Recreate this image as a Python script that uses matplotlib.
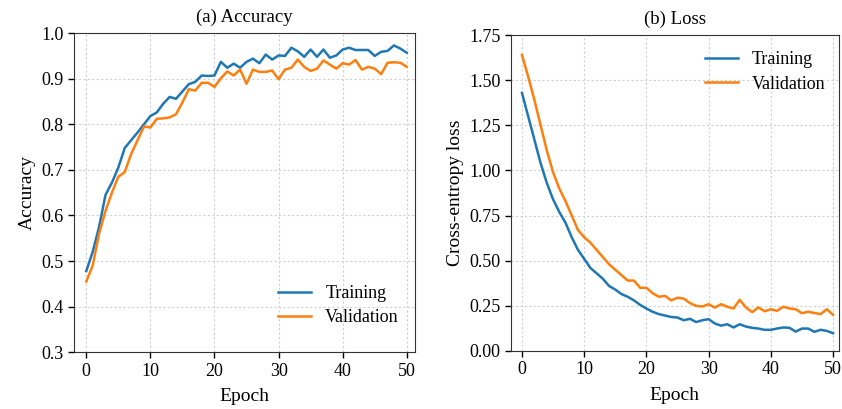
import numpy as np
import matplotlib
matplotlib.use('Agg')
import matplotlib.pyplot as plt

# values, one per epoch
epochs = np.arange(0, 51)

acc_train = [0.478, 0.52, 0.575, 0.645, 0.672, 0.705, 0.748, 0.765, 0.782, 0.80,
             0.818, 0.826, 0.845, 0.86, 0.856, 0.872, 0.888, 0.893, 0.907, 0.906,
             0.907, 0.937, 0.924, 0.933, 0.924, 0.937, 0.944, 0.934, 0.953, 0.942,
             0.951, 0.950, 0.968, 0.96, 0.948, 0.964, 0.948, 0.964, 0.946, 0.951,
             0.964, 0.968, 0.963, 0.963, 0.963, 0.95, 0.959, 0.961, 0.973, 0.966,
             0.957]
acc_val = [0.455, 0.49, 0.56, 0.61, 0.65, 0.685, 0.695, 0.735, 0.765, 0.795,
           0.793, 0.812, 0.813, 0.815, 0.822, 0.848, 0.877, 0.874, 0.891, 0.891,
           0.882, 0.901, 0.916, 0.907, 0.92, 0.889, 0.92, 0.915, 0.915, 0.918,
           0.899, 0.92, 0.924, 0.942, 0.926, 0.917, 0.922, 0.94, 0.931, 0.922,
           0.934, 0.931, 0.941, 0.92, 0.926, 0.922, 0.91, 0.935, 0.936, 0.935,
           0.926]

loss_train = [1.43, 1.30, 1.17, 1.04, 0.93, 0.84, 0.77, 0.71, 0.63, 0.56,
              0.51, 0.46, 0.43, 0.40, 0.36, 0.34, 0.315, 0.30, 0.28, 0.255,
              0.235, 0.217, 0.204, 0.196, 0.188, 0.185, 0.17, 0.178, 0.16, 0.17,
              0.176, 0.152, 0.14, 0.148, 0.13, 0.148, 0.135, 0.128, 0.124, 0.117,
              0.117, 0.124, 0.13, 0.128, 0.107, 0.124, 0.124, 0.106, 0.117, 0.111,
              0.098]
loss_val = [1.64, 1.52, 1.39, 1.25, 1.11, 0.99, 0.90, 0.83, 0.75, 0.67,
            0.63, 0.60, 0.56, 0.52, 0.48, 0.45, 0.42, 0.39, 0.39, 0.35,
            0.35, 0.32, 0.30, 0.305, 0.28, 0.295, 0.29, 0.265, 0.25, 0.246,
            0.259, 0.24, 0.259, 0.245, 0.235, 0.283, 0.241, 0.215, 0.241, 0.22,
            0.231, 0.222, 0.245, 0.235, 0.231, 0.209, 0.217, 0.21, 0.204, 0.231,
            0.2]

plt.rcParams['font.family'] = 'Liberation Serif'
plt.rcParams['font.size'] = 13

fig = plt.figure(figsize=(8.42, 4.09), dpi=100)
ax1 = fig.add_axes([0.088, 0.139, 0.405, 0.780])
ax2 = fig.add_axes([0.607, 0.142, 0.389, 0.772])

blue = '#1f77b4'
orange = '#ff7f0e'

for ax in (ax1, ax2):
    ax.grid(True, linestyle=(0, (2, 2)), color='#d0d0d0', linewidth=0.8)
    ax.set_axisbelow(True)
    ax.tick_params(direction='out', length=4, width=1, labelsize=13)
    for s in ax.spines.values():
        s.set_color('#333333')
    ax.set_xticks([0, 10, 20, 30, 40, 50])
    ax.set_xlabel('Epoch', fontsize=14, labelpad=6)

ax1.plot(epochs, acc_train, color=blue, lw=1.8, label='Training')
ax1.plot(epochs, acc_val, color=orange, lw=1.8, label='Validation')
ax1.set_xlim(-1.9, 51.3)
ax1.set_ylim(0.3, 1.0)
ax1.set_yticks(np.arange(0.3, 1.01, 0.1))
ax1.yaxis.set_major_formatter(plt.FormatStrFormatter('%.1f'))
ax1.set_ylabel('Accuracy', fontsize=14)
ax1.set_title('(a) Accuracy', fontsize=13.5, pad=8)
ax1.legend(loc='lower right', frameon=False, fontsize=13,
           bbox_to_anchor=(1.0, 0.03), handlelength=1.8, labelspacing=0.4)

ax2.plot(epochs, loss_train, color=blue, lw=1.8, label='Training')
ax2.plot(epochs, loss_val, color=orange, lw=1.8, label='Validation')
ax2.set_xlim(-1.75, 50.9)
ax2.set_ylim(0, 1.75)
ax2.set_yticks(np.arange(0, 1.76, 0.25))
ax2.yaxis.set_major_formatter(plt.FormatStrFormatter('%.2f'))
ax2.set_ylabel('Cross-entropy loss', fontsize=14)
ax2.set_title('(b) Loss', fontsize=13.5, pad=8)
ax2.legend(loc='upper right', frameon=False, fontsize=13,
           bbox_to_anchor=(1.01, 1.0), handlelength=1.8, labelspacing=0.4)

fig.savefig('out.png', dpi=100)
